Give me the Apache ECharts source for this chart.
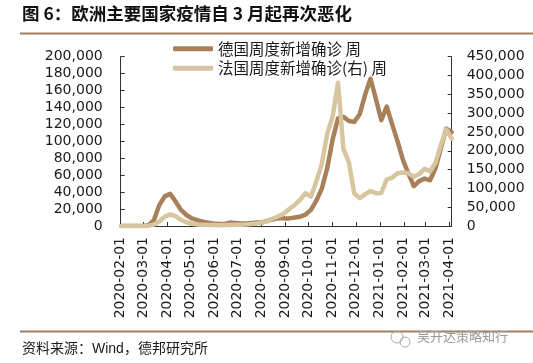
<!DOCTYPE html>
<html><head><meta charset="utf-8">
<script src="https://cdn.jsdelivr.net/npm/echarts@6/dist/echarts.min.js"></script>
<style>html,body{margin:0;padding:0;background:#fff}#c{width:533px;height:363px}</style>
</head><body><div id="c"></div>
<script>
const dates = ['2020-02-02','2020-02-09','2020-02-16','2020-02-23','2020-03-01','2020-03-08','2020-03-15','2020-03-22','2020-03-29','2020-04-05',
'2020-04-12','2020-04-19','2020-04-26','2020-05-03','2020-05-10','2020-05-17','2020-05-24','2020-05-31','2020-06-07','2020-06-14',
'2020-06-21','2020-06-28','2020-07-05','2020-07-12','2020-07-19','2020-07-26','2020-08-02','2020-08-09','2020-08-16','2020-08-23',
'2020-08-30','2020-09-06','2020-09-13','2020-09-20','2020-09-27','2020-10-04','2020-10-11','2020-10-18','2020-10-25','2020-11-01',
'2020-11-08','2020-11-15','2020-11-22','2020-11-29','2020-12-06','2020-12-13','2020-12-20','2020-12-27','2021-01-03','2021-01-10',
'2021-01-17','2021-01-24','2021-01-31','2021-02-07','2021-02-14','2021-02-21','2021-02-28','2021-03-07','2021-03-14','2021-03-21',
'2021-03-28','2021-04-04'];
const germany = [0,0,0,50,100,1000,7000,25000,35000,38000,
29000,19000,13000,9000,7000,5000,4000,3000,2500,2500,
4000,3500,3000,3000,3500,4000,4500,6000,8000,9500,
9000,9000,10000,11000,13500,19000,30000,44000,68000,102000,
127000,129000,124000,123000,132000,155000,174000,150000,125000,141000,
120000,100000,78000,62000,47000,53000,56000,54000,68000,92000,
115000,111000];
const france = [0,0,0,100,300,1000,4000,12000,25000,31000,
26000,16000,10000,6000,4000,3000,2500,2500,2000,2500,
2500,3000,3500,4000,5500,7000,9000,13000,20000,26000,
33000,45000,56000,70000,87000,78000,118000,165000,245000,290000,
381000,205000,170000,87000,74000,84000,93000,87000,88000,124000,
128000,140000,142000,140000,131000,138000,152000,145000,168000,215000,
257000,232000];
const monthTicks = ['2020-02-01','2020-03-01','2020-04-01','2020-05-01','2020-06-01','2020-07-01','2020-08-01',
'2020-09-01','2020-10-01','2020-11-01','2020-12-01','2021-01-01','2021-02-01','2021-03-01','2021-04-01'];
const seriesNames = ['德国周度新增确诊 周','法国周度新增确诊(右) 周'];
const titleText = '图 6：欧洲主要国家疫情自 3 月起再次恶化';
const sourceText = '资料来源：Wind，德邦研究所';
const watermarkText = '吴开达策略知行';

const P = s => Date.UTC(+s.slice(0, 4), +s.slice(5, 7) - 1, +s.slice(8, 10));
const pad = n => (n < 10 ? '0' : '') + n;
const fmtDate = v => { const d = new Date(v); return d.getUTCFullYear() + '-' + pad(d.getUTCMonth() + 1) + '-' + pad(d.getUTCDate()); };
const fmtNum = v => String(v).replace(/\B(?=(\d{3})+(?!\d))/g, ',');
const tickVals = monthTicks.map(P);

const chart = echarts.init(document.getElementById('c'), null, {renderer: 'canvas'});
const axisColor = '#333';
const numFont = 'DejaVu Sans';
const cjkFont = 'Noto Sans CJK SC';
chart.setOption({
  animation: false,
  backgroundColor: '#fff',
  grid: {left: 120.7, right: 81.3, top: 56.7, bottom: 137},
  legend: {
    orient: 'vertical', left: 168, top: 36, itemWidth: 40, itemHeight: 5, itemGap: 4,
    icon: 'roundRect',
    textStyle: {fontFamily: cjkFont, fontSize: 15.5, color: '#1a1a1a'},
    data: seriesNames
  },
  xAxis: {
    type: 'value', min: P('2020-02-01'), max: P('2021-04-04'),
    axisLine: {lineStyle: {color: axisColor, width: 1}},
    axisTick: {inside: true, length: 4, customValues: tickVals, lineStyle: {color: axisColor}},
    axisLabel: {customValues: tickVals, rotate: 90, margin: 11, fontFamily: numFont, fontSize: 14, color: '#1a1a1a',
      padding: [8, 0, 0, 0], formatter: v => fmtDate(v)},
    splitLine: {show: false}
  },
  yAxis: [{
    type: 'value', min: 0, max: 200000, interval: 20000,
    axisLine: {show: true, lineStyle: {color: axisColor}},
    axisTick: {show: true, inside: true, length: 4, lineStyle: {color: axisColor}},
    axisLabel: {margin: 18, fontFamily: numFont, fontSize: 14, color: '#1a1a1a', formatter: fmtNum},
    splitLine: {show: false}
  }, {
    type: 'value', min: 0, max: 450000, interval: 50000, position: 'right',
    axisLine: {show: true, lineStyle: {color: axisColor}},
    axisTick: {show: true, inside: true, length: 4, lineStyle: {color: axisColor}},
    axisLabel: {margin: 15, fontFamily: numFont, fontSize: 14, color: '#1a1a1a', formatter: fmtNum},
    splitLine: {show: false}
  }],
  series: [{
    name: seriesNames[0], type: 'line', yAxisIndex: 0, showSymbol: false, symbol: 'none',
    data: dates.map((d, i) => [P(d), germany[i]]),
    lineStyle: {color: '#a8805a', width: 4.5, join: 'round', cap: 'round'},
    itemStyle: {color: '#a8805a'}
  }, {
    name: seriesNames[1], type: 'line', yAxisIndex: 1, showSymbol: false, symbol: 'none',
    data: dates.map((d, i) => [P(d), france[i]]),
    lineStyle: {color: '#d7c59f', width: 4.5, join: 'round', cap: 'round'},
    itemStyle: {color: '#d7c59f'}
  }],
  graphic: [
    {type: 'text', left: 22, top: 5, style: {text: titleText, fontFamily: cjkFont, fontWeight: 'bold', fontSize: 17.5, fill: '#111'}},
    {type: 'line', shape: {x1: 20, y1: 33.5, x2: 533, y2: 33.5}, style: {stroke: '#a47d5e', lineWidth: 2}},
    {type: 'line', shape: {x1: 20, y1: 331.5, x2: 533, y2: 331.5}, style: {stroke: '#a47d5e', lineWidth: 2}},
    {type: 'text', left: 22, top: 342, style: {text: sourceText, fontFamily: '"Liberation Sans", ' + cjkFont, fontSize: 14, fill: '#1a1a1a'}},
    {type: 'circle', shape: {cx: 397, cy: 337, r: 6}, style: {fill: 'none', stroke: '#aaa', lineWidth: 1}},
    {type: 'circle', shape: {cx: 405, cy: 342, r: 5}, style: {fill: 'none', stroke: '#aaa', lineWidth: 1}},
    {type: 'text', left: 417, top: 330, style: {text: watermarkText, fontFamily: cjkFont, fontSize: 13, fill: '#999'}}
  ]
});
</script></body></html>
